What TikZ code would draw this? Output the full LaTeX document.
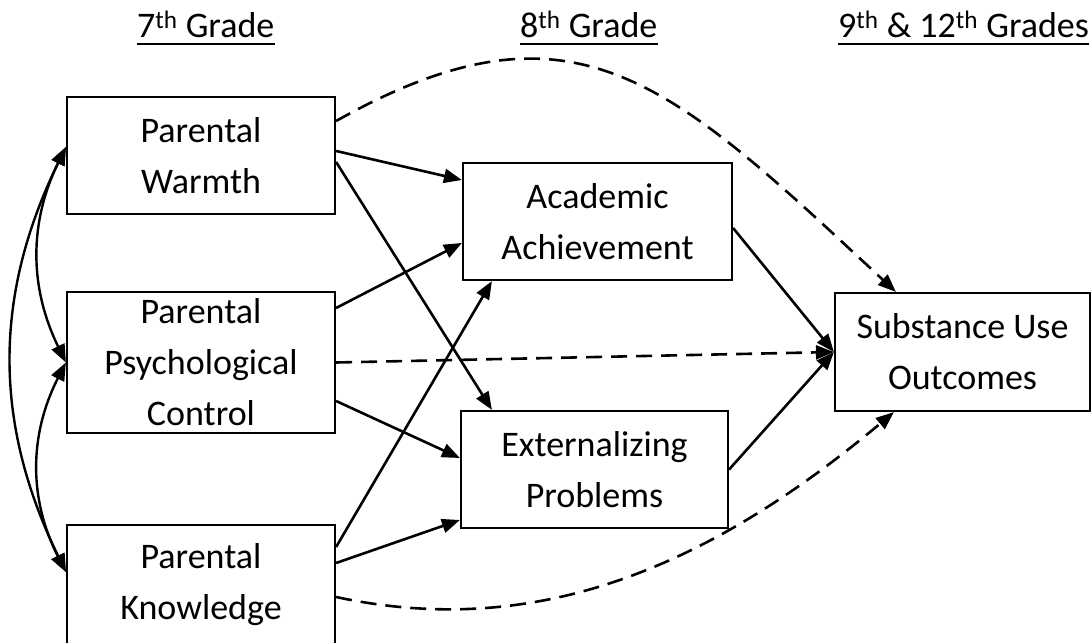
\documentclass[tikz,border=0pt]{standalone}
\usepackage{fontspec}
\setmainfont{Carlito}
\usetikzlibrary{arrows.meta,calc,positioning}
\tikzset{
  construct/.style={draw=black, line width=2.2pt, fill=white, inner sep=0pt,
                    minimum width=268pt, minimum height=117pt,
                    align=center, font=\fontsize{36}{51}\selectfont},
  grade/.style={inner sep=0pt, anchor=base west, font=\fontsize{36}{43}\selectfont},
  effect/.style={-{Triangle[length=18pt,width=14pt]}, line width=2.6pt},
  direct/.style={effect, dash pattern=on 16pt off 9pt},
  covary/.style={{Triangle[length=18pt,width=14pt]}-{Triangle[length=18pt,width=14pt]},
                 line width=2.4pt},
}
\begin{document}
\begin{tikzpicture}[x=1pt,y=1pt]
  \path[use as bounding box] (0,0) rectangle (1091,642);

  % Wave headings
  \node[grade] (G7) at (137,604) {7\textsuperscript{th} Grade};
  \node[grade] (G8) at (520,604) {8\textsuperscript{th} Grade};
  \node[grade] (G9) at (838,604) {9\textsuperscript{th} \& 12\textsuperscript{th} Grades};
  \foreach \g in {G7,G8,G9}
    \draw[line width=2.2pt] ([yshift=-6pt]\g.base west) -- ([yshift=-6pt]\g.base east);

  % Parenting (7th grade)
  \node[construct] (PW) at (201,486.5) {Parental\\Warmth};
  \node[construct, minimum height=141pt] (PPC) at (201,279.5)
    {Parental\\Psychological\\Control};
  \node[construct, minimum height=119pt] (PK) at (201,57.5) {Parental\\Knowledge};

  % Mediators (8th grade)
  \node[construct, minimum width=269pt] (AA) at (597.5,420.5) {Academic\\Achievement};
  \node[construct, minimum width=267pt] (EP) at (594.5,172.5) {Externalizing\\Problems};

  % Outcome
  \node[construct, minimum width=255pt, minimum height=118pt] (SUO) at (962.5,290)
    {Substance Use\\Outcomes};

  % Covariances among parenting dimensions
  \draw[covary] ([yshift=8.5pt]PW.west) to[bend right=26] ([yshift=12.5pt]PK.west);
  \draw[covary] ([yshift=8.5pt]PW.west) to[bend right=26] (PPC.west);
  \draw[covary] (PPC.west) to[bend right=27] ([yshift=12.5pt]PK.west);

  % Parenting -> mediators
  \draw[effect] ([yshift=4.5pt]PW.east) -- ([yshift=41.5pt]AA.west);
  \draw[effect] ([yshift=-6.5pt]PW.east) -- ([xshift=32pt]EP.north west);
  \draw[effect] ([yshift=54.5pt]PPC.east) -- ([yshift=-21.5pt]AA.west);
  \draw[effect] ([yshift=-38.5pt]PPC.east) -- ([yshift=11.5pt]EP.west);
  \draw[effect] ([yshift=37.5pt]PK.east) -- ([xshift=30pt]AA.south west);
  \draw[effect] ([yshift=21.5pt]PK.east) -- ([yshift=-50.5pt]EP.west);

  % Mediators -> outcome
  \draw[effect] ([yshift=-6.5pt]AA.east) -- (SUO.west);
  \draw[effect] (EP.east) -- (SUO.west);

  % Direct paths
  \draw[direct] (PPC.east) -- (SUO.west);
  \draw[direct] ([yshift=34.5pt]PW.east) .. controls (575,655) and (670,560)
    .. ([xshift=62pt]SUO.north west);
  \draw[direct] ([yshift=-12.5pt]PK.east) .. controls (531,3) and (703,70)
    .. ([xshift=60pt]SUO.south west);
\end{tikzpicture}
\end{document}
